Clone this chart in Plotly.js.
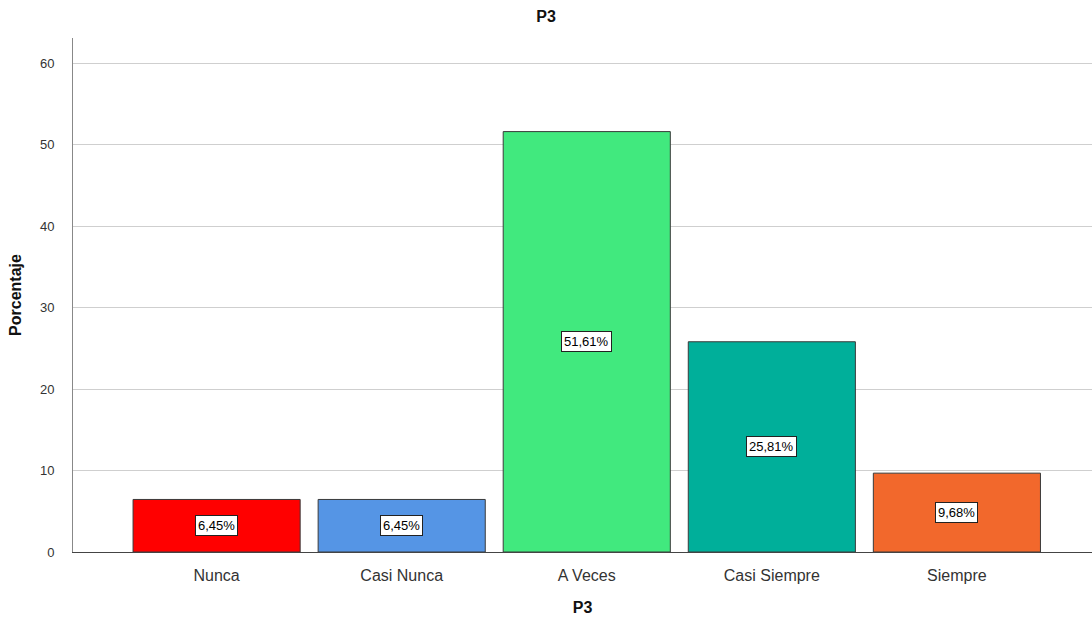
<!DOCTYPE html>
<html><head><meta charset="utf-8">
<script src="https://cdn.plot.ly/plotly-3.0.1.min.js"></script>
<style>html,body{margin:0;padding:0;background:#fff}#c{width:1092px;height:622px}</style>
</head><body><div id="c"></div>
<script>
const categories = ["Nunca", "Casi Nunca", "A Veces", "Casi Siempre", "Siempre"];
const values = [6.45, 6.45, 51.61, 25.81, 9.68];
const colors = ["#FF0000", "#5595E5", "#41E97E", "#00AF9A", "#F2682C"];
const yTicks = [0, 10, 20, 30, 40, 50, 60];

const labelText = values.map(v => v.toFixed(2).replace('.', ',') + '%');

const trace = {
  type: 'bar', x: categories, y: values,
  marker: {color: colors, line: {color: '#3a3a3a', width: 1}},
  width: 0.903, hoverinfo: 'none'
};
const annotations = categories.map((c, i) => ({
  x: c, y: values[i] / 2, xref: 'x', yref: 'y', text: labelText[i], showarrow: false,
  bgcolor: '#ffffff', bordercolor: '#222', borderwidth: 1, borderpad: 2,
  font: {family: 'Liberation Sans, Arial', size: 13, color: '#000'}
}));
const layout = {
  width: 1092, height: 622,
  margin: {l: 73, r: 0, t: 38, b: 70},
  paper_bgcolor: '#fff', plot_bgcolor: '#fff',
  title: {text: '<b>P3</b>', x: 0.5, xanchor: 'center', y: 0.974, yanchor: 'middle',
    font: {family: 'Liberation Sans, Arial', size: 16, color: '#111'}},
  font: {family: 'Liberation Sans, Arial'},
  showlegend: false,
  bargap: 0.1,
  xaxis: {
    type: 'category', range: [-0.776, 4.73],
    showline: true, linecolor: '#444', linewidth: 1,
    ticks: 'outside', ticklen: 9, tickcolor: 'rgba(0,0,0,0)',
    tickfont: {size: 16, color: '#333'}, showgrid: false,
    title: {text: '<b>P3</b>', font: {size: 16, color: '#111'}, standoff: 18}
  },
  yaxis: {
    range: [0, 63.1], tickvals: yTicks, ticktext: yTicks.map(String),
    showline: true, linecolor: '#888', linewidth: 1,
    ticks: 'outside', ticklen: 15, tickcolor: 'rgba(0,0,0,0)',
    gridcolor: '#cfcfcf', gridwidth: 1, zeroline: false,
    tickfont: {size: 13, color: '#333'},
    title: {text: '<b>Porcentaje</b>', font: {size: 16, color: '#111'}, standoff: 14}
  },
  annotations: annotations
};
Plotly.newPlot('c', [trace], layout, {staticPlot: true, displayModeBar: false});
</script></body></html>
